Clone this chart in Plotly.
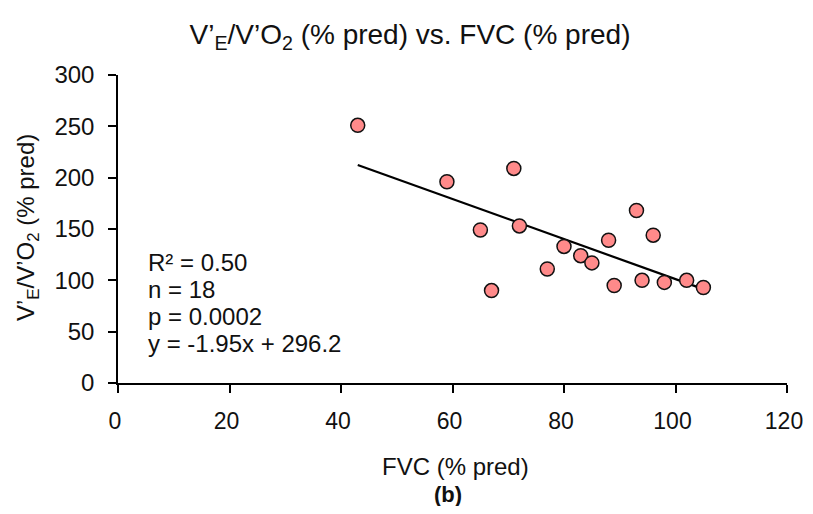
import plotly.graph_objects as go

fvc = [43, 59, 65, 67, 71, 72, 77, 80, 83, 85, 88, 89, 93, 94, 96, 98, 102, 105]
ve_vo2 = [251, 196, 149, 90, 209, 153, 111, 133, 124, 117, 139, 95, 168, 100, 144, 98, 100, 93]

slope = -1.95
intercept = 296.2
fit_x = [min(fvc), max(fvc)]
fit_y = [slope * v + intercept for v in fit_x]

stats_lines = ["R² = 0.50", "n = 18", "p = 0.0002", "y = -1.95x + 296.2"]

font_family = "Liberation Sans, Arial, sans-serif"

# page offset (default body margin) and figure size (avoid scrollbars)
OFF = 8
FW, FH = 813 - OFF, 514 - 2 * OFF

# plot area in screen pixels
L, R, T, B = 118, 787, 75, 383
W, H = R - L, B - T

def px(xp):
    return (xp - L) / W

def py(yp):
    return (B - yp) / H

fig = go.Figure()
fig.add_trace(go.Scatter(
    x=fit_x, y=fit_y, mode="lines",
    line=dict(color="black", width=2.2), showlegend=False, hoverinfo="skip"))
fig.add_trace(go.Scatter(
    x=fvc, y=ve_vo2, mode="markers",
    marker=dict(size=14, color="#FF8A8A", line=dict(color="#111111", width=1.5)),
    showlegend=False))

fig.update_layout(
    width=FW, height=FH,
    paper_bgcolor="white", plot_bgcolor="white",
    margin=dict(l=L - OFF, r=FW - (R - OFF), t=T - OFF, b=FH - (B - OFF)),
    font=dict(family=font_family, size=24, color="#111111"),
    title=dict(text="V’<sub>E</sub>/V’O<sub>2</sub> (% pred) vs. FVC (% pred)",
               x=(410 - OFF) / FW, xanchor="center",
               y=1 - (34 - OFF) / FH, yanchor="middle",
               font=dict(size=28, family=font_family, color="#111111")),
    xaxis=dict(range=[0, 120], tickvals=[0, 20, 40, 60, 80, 100, 120],
               showline=True, linecolor="black", linewidth=1.5,
               ticks="outside", ticklen=8, tickcolor="black", tickwidth=1.5,
               showgrid=False, zeroline=False, automargin=False,
               ticklabelstandoff=9, ticklabelshift=-3,
               tickfont=dict(size=23)),
    yaxis=dict(range=[0, 300], tickvals=[0, 50, 100, 150, 200, 250, 300],
               showline=True, linecolor="black", linewidth=1.5,
               ticks="outside", ticklen=8, tickcolor="black", tickwidth=1.5,
               showgrid=False, zeroline=False, automargin=False,
               ticklabelstandoff=9,
               tickfont=dict(size=24)),
)

# axis titles
fig.add_annotation(
    text="FVC (% pred)", xref="paper", yref="paper",
    x=px(455), y=py(466), xanchor="center", yanchor="middle",
    showarrow=False, font=dict(size=24, color="#111111"))
fig.add_annotation(
    text="V’<sub>E</sub>/V’O<sub>2</sub> (% pred)", xref="paper", yref="paper",
    x=px(27), y=py(228), xanchor="center", yanchor="middle", textangle=-90,
    showarrow=False, font=dict(size=24, color="#111111"))

# stats block
line_y = [262, 289, 316, 343]
for txt, yy in zip(stats_lines, line_y):
    fig.add_annotation(
        text=txt, xref="paper", yref="paper",
        x=px(146), y=py(yy), xanchor="left", yanchor="middle",
        align="left", showarrow=False, font=dict(size=24, color="#111111"))

fig.add_annotation(
    text="<b>(b)</b>", xref="paper", yref="paper",
    x=px(448), y=py(494), xanchor="center", yanchor="middle",
    showarrow=False, font=dict(size=22, color="#111111"))

fig.write_html("out.html")
